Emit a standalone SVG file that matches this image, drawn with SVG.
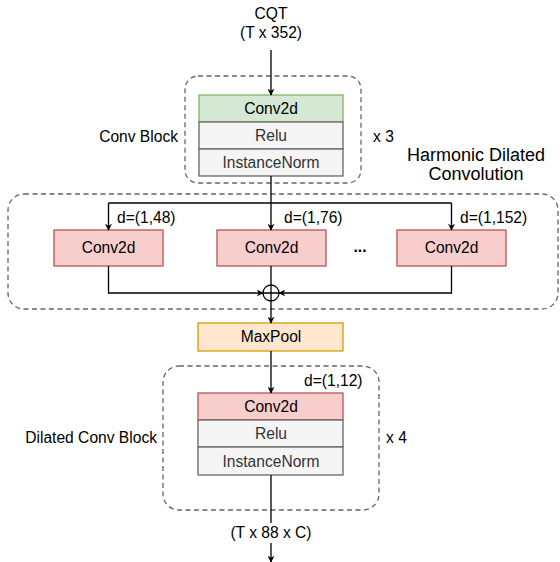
<svg xmlns="http://www.w3.org/2000/svg" width="560" height="562" viewBox="0 0 560 562">
<style>
text{font-family:"Liberation Sans",Arial,sans-serif;font-size:15.6px;fill:#000}
.c{text-anchor:middle}
.g{fill:#333333}
.dash{fill:none;stroke:#666666;stroke-width:1.3;stroke-dasharray:5 3.5}
.green{fill:#d5e8d4;stroke:#82b366;stroke-width:1.3}
.red{fill:#f8cecc;stroke:#b85450;stroke-width:1.3}
.gray{fill:#f5f5f5;stroke:#666666;stroke-width:1.3}
.orange{fill:#ffe6cc;stroke:#d79b00;stroke-width:1.3}
.e{fill:none;stroke:#000;stroke-width:1.3}
.ea{fill:none;stroke:#000;stroke-width:1.3;marker-end:url(#arr)}
</style>
<defs>
<marker id="arr" viewBox="0 0 10 10" refX="9" refY="5" markerWidth="7" markerHeight="7" markerUnits="userSpaceOnUse" orient="auto">
<path d="M0,0 L10,5 L0,10 L3,5 Z" fill="#000"/>
</marker>
</defs>

<g id="input-label">
<text class="c" x="271" y="19">CQT</text>
<text class="c" x="271" y="38">(T x 352)</text>
</g>

<g id="conv-block">
<rect class="dash" x="185" y="76" width="176" height="107" rx="13"/>
<text x="178" y="142" text-anchor="end">Conv Block</text>
<text x="373" y="142">x 3</text>
</g>
<g id="cb-conv2d"><rect class="green" x="199" y="95" width="144" height="27"/><text class="c" x="271" y="114">Conv2d</text></g>
<g id="cb-relu"><rect class="gray" x="199" y="122" width="144" height="27"/><text class="c g" x="271" y="141">Relu</text></g>
<g id="cb-norm"><rect class="gray" x="199" y="149" width="144" height="27"/><text class="c g" x="271" y="168">InstanceNorm</text></g>

<g id="harmonic-block">
<rect class="dash" x="8" y="194" width="550" height="115" rx="16"/>
<text class="c" x="476" y="161" style="font-size:18px">Harmonic Dilated</text>
<text class="c" x="476" y="180" style="font-size:18px">Convolution</text>
</g>
<g id="hd-conv1"><rect class="red" x="54" y="230" width="109" height="36"/><text class="c" x="108.5" y="253">Conv2d</text></g>
<g id="hd-conv2"><rect class="red" x="217" y="230" width="109" height="36"/><text class="c" x="271.5" y="253">Conv2d</text></g>
<g id="hd-conv3"><rect class="red" x="397" y="230" width="109" height="36"/><text class="c" x="451.5" y="253">Conv2d</text></g>
<g id="hd-ellipsis"><text class="c" x="360" y="252" style="font-weight:bold">...</text></g>
<g id="sum">
<circle cx="271" cy="293" r="8" fill="#fff" stroke="#000" stroke-width="1.3"/>
<path d="M263,293 H279 M271,285 V301" stroke="#000" stroke-width="1.3"/>
</g>

<g id="maxpool"><rect class="orange" x="198" y="323" width="145" height="28"/><text class="c" x="271" y="342">MaxPool</text></g>

<g id="dilated-block">
<rect class="dash" x="163" y="366" width="216" height="144" rx="16"/>
<text x="157" y="443" text-anchor="end">Dilated Conv Block</text>
<text x="386" y="443">x 4</text>
</g>
<g id="db-conv2d"><rect class="red" x="198" y="393" width="145" height="27"/><text class="c" x="271" y="412">Conv2d</text></g>
<g id="db-relu"><rect class="gray" x="198" y="420" width="145" height="27"/><text class="c g" x="271" y="439">Relu</text></g>
<g id="db-norm"><rect class="gray" x="198" y="447" width="145" height="28"/><text class="c g" x="271" y="467">InstanceNorm</text></g>

<g id="connectors">
<path class="ea" d="M271,50 V95"/>
<path class="ea" d="M271,176 V230"/>
<path class="e" d="M108.5,203 H451.5"/>
<path class="ea" d="M108.5,203 V230"/>
<path class="ea" d="M451.5,203 V230"/>
<text x="117" y="223">d=(1,48)</text>
<text x="284" y="223">d=(1,76)</text>
<text x="460" y="223">d=(1,152)</text>
<path class="ea" d="M108.5,266 V293 H263"/>
<path class="ea" d="M451.5,266 V293 H279"/>
<path class="e" d="M271,266 V285"/>
<path class="ea" d="M271,301 V323"/>
<path class="ea" d="M271,351 V393"/>
<text x="304" y="386">d=(1,12)</text>
<path class="ea" d="M271,475 V562"/>
<rect x="226" y="523" width="90" height="20" fill="#fff"/>
<text class="c" x="271" y="538">(T x 88 x C)</text>
</g>
</svg>
